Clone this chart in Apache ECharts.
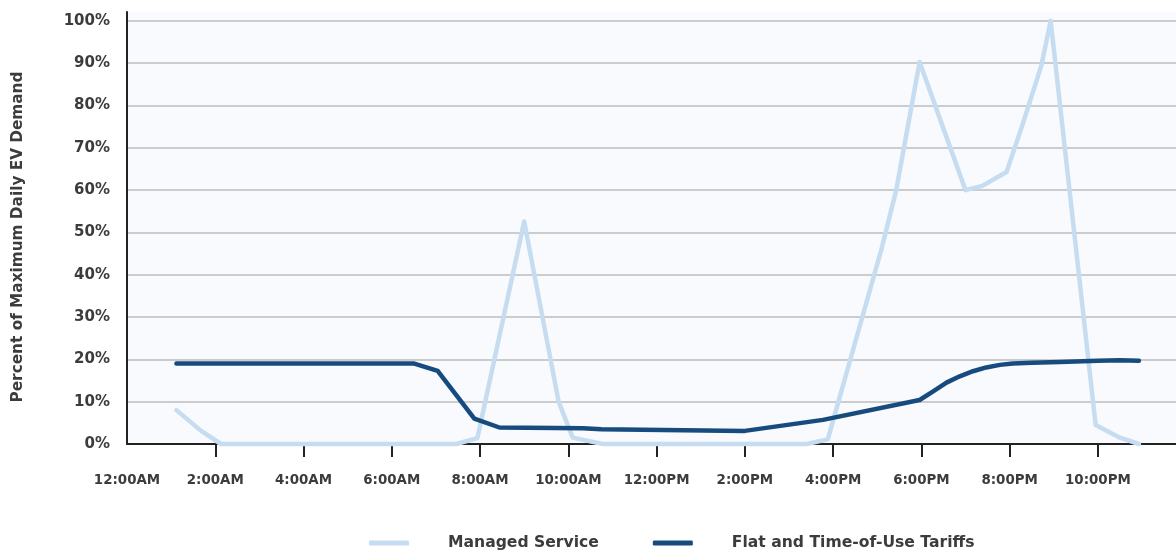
<!DOCTYPE html>
<html>
<head>
<meta charset="utf-8">
<script src="https://cdn.jsdelivr.net/npm/echarts@6/dist/echarts.min.js"></script>
<style>
html,body{margin:0;padding:0;background:#fff;}
#c{width:1176px;height:550px;}
</style>
</head>
<body>
<div id="c"></div>
<script>
// Hour of day (0-24) tick labels
const tickHours = [0, 2, 4, 6, 8, 10, 12, 14, 16, 18, 20, 22];
const tickLabels = ['12:00AM', '2:00AM', '4:00AM', '6:00AM', '8:00AM', '10:00AM', '12:00PM', '2:00PM', '4:00PM', '6:00PM', '8:00PM', '10:00PM'];
const yTicks = [0, 10, 20, 30, 40, 50, 60, 70, 80, 90, 100];

// Managed Service: hour, percent
const managedHours = [1.12, 1.68, 2.13, 7.46, 7.94, 9.0, 9.78, 10.1, 10.78, 15.4, 15.88, 17.09, 17.43, 17.7, 17.96, 19.0, 19.38, 19.93, 20.29, 20.72, 20.93, 21.95, 22.5, 22.93];
const managedValues = [8.0, 3.1, 0, 0, 1.4, 52.6, 10, 1.5, 0, 0, 1.1, 45.8, 60, 75.4, 90.3, 60, 61, 64.3, 75.4, 89.5, 100, 4.5, 1.5, 0];

// Flat and Time-of-Use Tariffs: hour, percent
const flatHours = [1.12, 6.51, 7.04, 7.87, 8.44, 10.33, 10.75, 14.0, 15.77, 17.96, 18.25, 18.57, 18.87, 19.17, 19.47, 19.78, 20.07, 20.5, 21.14, 22.0, 22.5, 22.93];
const flatValues = [19.0, 19.0, 17.3, 6.0, 3.9, 3.7, 3.5, 3.1, 5.7, 10.4, 12.3, 14.5, 16.0, 17.2, 18.1, 18.7, 19.0, 19.2, 19.4, 19.7, 19.8, 19.7];

const seriesNames = ['Managed Service', 'Flat and Time-of-Use Tariffs'];
const colors = ['#c6dcf1', '#174b7e'];

const pairs = (xs, ys) => xs.map((x, i) => [x, ys[i]]);
const labelMap = {};
tickHours.forEach((h, i) => labelMap[h] = tickLabels[i]);

const chart = echarts.init(document.getElementById('c'), null, {renderer: 'canvas'});
const font = '"DejaVu Sans", sans-serif';
const txt = '#3c3c3c';
chart.setOption({
  animation: false,
  backgroundColor: '#ffffff',
  grid: {
    left: 127, right: 0, top: 12, bottom: 106,
    show: true, backgroundColor: '#f8fafd', borderWidth: 0
  },
  legend: {
    top: 530,
    left: 364,
    data: seriesNames,
    icon: 'roundRect',
    itemWidth: 40,
    itemHeight: 5,
    itemGap: 54,
    textStyle: {
      fontFamily: font, fontWeight: 'bold', fontSize: 15.6, color: txt,
      padding: [0, 0, 0, 34]
    }
  },
  xAxis: {
    type: 'value',
    min: 0, max: 23.77,
    axisLine: {show: true, lineStyle: {color: '#222', width: 2}},
    axisTick: {show: true, length: 13, lineStyle: {color: '#222', width: 2},
      customValues: tickHours.filter(h => h > 0)},
    axisLabel: {
      customValues: tickHours,
      formatter: v => labelMap[v] || '',
      margin: 30,
      fontFamily: font, fontWeight: 'bold', fontSize: 13.4, color: txt
    },
    splitLine: {show: false}
  },
  yAxis: {
    type: 'value',
    min: 0, max: 102.1,
    name: 'Percent of Maximum Daily EV Demand',
    nameLocation: 'middle',
    nameGap: 101,
    nameTextStyle: {fontFamily: font, fontWeight: 'bold', fontSize: 15.3, color: txt,
      padding: [0, 18, 0, 0]},
    axisLine: {show: true, lineStyle: {color: '#222', width: 2}},
    axisTick: {show: false, customValues: yTicks},
    axisLabel: {
      customValues: yTicks,
      formatter: v => v + '%',
      margin: 17,
      fontFamily: font, fontWeight: 'bold', fontSize: 15, color: txt
    },
    splitLine: {show: true, lineStyle: {color: '#bdbdbd', width: 1.5}}
  },
  series: [
    {
      name: seriesNames[0], type: 'line', data: pairs(managedHours, managedValues),
      showSymbol: false, color: colors[0], clip: false,
      lineStyle: {width: 4.5, color: colors[0], cap: 'round', join: 'round'}, z: 2
    },
    {
      name: seriesNames[1], type: 'line', data: pairs(flatHours, flatValues),
      showSymbol: false, color: colors[1], clip: false,
      lineStyle: {width: 4.5, color: colors[1], cap: 'round', join: 'round'}, z: 3
    }
  ]
});
</script>
</body>
</html>
